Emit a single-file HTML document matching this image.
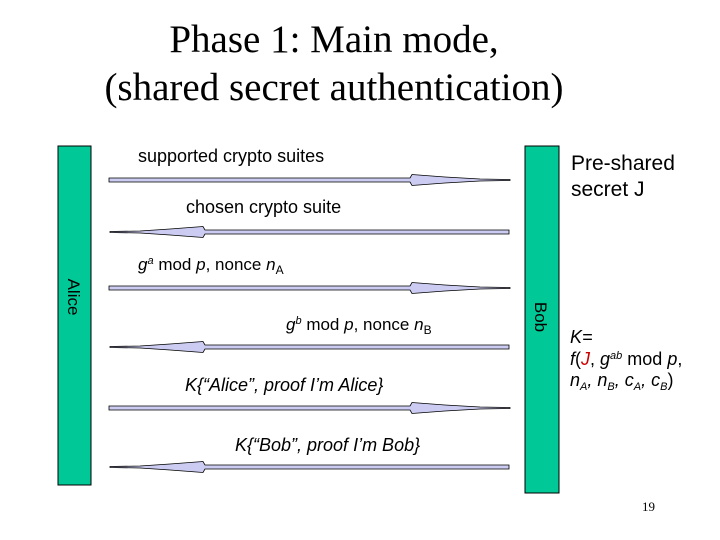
<!DOCTYPE html>
<html><head><meta charset="utf-8"><style>
body{margin:0;width:720px;height:540px;background:#fff;overflow:hidden}
svg{display:block}
text{font-family:"Liberation Sans",sans-serif}
</style></head><body>
<svg width="720" height="540" viewBox="0 0 720 540">
<text x="334" y="52" text-anchor="middle" font-size="39" style="font-family:'Liberation Serif',serif" fill="#000">Phase 1: Main mode,</text>
<text x="334" y="100" text-anchor="middle" font-size="39" style="font-family:'Liberation Serif',serif" fill="#000">(shared secret authentication)</text>
<rect x="58" y="146" width="33" height="339" fill="#00c896" stroke="#000" stroke-width="1"/>
<rect x="525" y="146" width="34" height="347" fill="#00c896" stroke="#000" stroke-width="1"/>
<text transform="translate(68,297) rotate(90)" font-size="17" text-anchor="middle">Alice</text>
<text transform="translate(535,317) rotate(90)" font-size="17" text-anchor="middle">Bob</text>
<g fill="#ccccf2" stroke="#000" stroke-width="0.8">
<g id="r1"><path d="M109,178 L410,178 L412,174.5 L445,177 L480,179 L510,179.5 L510,180.5 L480,181 L445,183 L412,185.5 L410,182 L109,182 Z"/></g>
<use href="#r1" y="108"/>
<use href="#r1" y="228"/>
<g id="l1"><path d="M509,230 L205,230 L203,226.5 L170,229 L140,231 L110,231.5 L110,232.5 L140,233 L170,235 L203,237.5 L205,234 L509,234 Z"/></g>
<use href="#l1" y="115"/>
<use href="#l1" y="235"/>
</g>
<text x="138" y="162" font-size="18">supported crypto suites</text>
<text x="186" y="213" font-size="18">chosen crypto suite</text>
<text x="138" y="270" font-size="17"><tspan font-style="italic">g</tspan><tspan font-size="11" dy="-6" font-style="italic">a</tspan><tspan dy="6"> mod </tspan><tspan font-style="italic">p</tspan>, nonce <tspan font-style="italic">n</tspan><tspan font-size="12" dy="4">A</tspan></text>
<text x="286" y="330" font-size="17"><tspan font-style="italic">g</tspan><tspan font-size="11" dy="-6" font-style="italic">b</tspan><tspan dy="6"> mod </tspan><tspan font-style="italic">p</tspan>, nonce <tspan font-style="italic">n</tspan><tspan font-size="12" dy="4">B</tspan></text>
<text x="185" y="391" font-size="18" font-style="italic">K{“Alice”, proof I’m Alice}</text>
<text x="235" y="451" font-size="18" font-style="italic">K{“Bob”, proof I’m Bob}</text>
<text x="571" y="170" font-size="21">Pre-shared</text>
<text x="571" y="196" font-size="21">secret J</text>
<text x="570" y="343" font-size="18" font-style="italic">K=</text>
<text x="570" y="365" font-size="18"><tspan font-style="italic">f</tspan>(<tspan fill="#cc0000" font-style="italic">J</tspan>, <tspan font-style="italic">g</tspan><tspan font-size="11" dy="-6" font-style="italic">ab</tspan><tspan dy="6"> mod </tspan><tspan font-style="italic">p</tspan>,</text>
<text x="570" y="386" font-size="18" font-style="italic">n<tspan font-size="11" dy="4">A</tspan><tspan dy="-4">, n</tspan><tspan font-size="11" dy="4">B</tspan><tspan dy="-4">, c</tspan><tspan font-size="11" dy="4">A</tspan><tspan dy="-4">, c</tspan><tspan font-size="11" dy="4">B</tspan><tspan dy="-4" font-style="normal">)</tspan></text>
<text x="642" y="511" font-size="13" style="font-family:'Liberation Serif',serif">19</text>
</svg>
</body></html>
